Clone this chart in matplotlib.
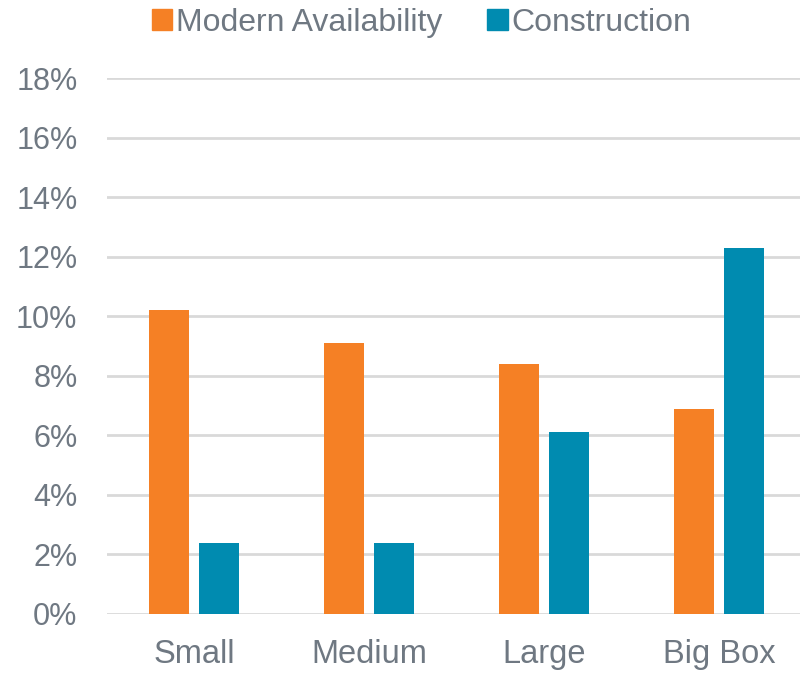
import matplotlib
matplotlib.use("Agg")
import matplotlib.pyplot as plt
from matplotlib.patches import Patch
from matplotlib.ticker import FuncFormatter
import numpy as np

categories = ["Small", "Medium", "Large", "Big Box"]
modern_availability = [10.2, 9.1, 8.4, 6.9]
construction = [2.4, 2.4, 6.1, 12.3]
series_names = ["Modern Availability", "Construction"]
y_ticks = [0, 2, 4, 6, 8, 10, 12, 14, 16, 18]

ORANGE = "#F58025"
TEAL = "#008BB0"
TEXT = "#6F7882"
GRID = "#D9D9D9"

plt.rcParams["font.family"] = ["Liberation Sans", "DejaVu Sans"]

fig = plt.figure(figsize=(8.0, 6.73), dpi=100)
ax = fig.add_axes([0.1333, 0.0877, 0.875, 0.7964])

x = np.arange(len(categories))
w = 0.2286
off = 0.1429
ax.bar(x - off, modern_availability, width=w, color=ORANGE, zorder=3)
ax.bar(x + off, construction, width=w, color=TEAL, zorder=3)

ax.set_xlim(-0.5, len(categories) - 0.5)
ax.set_ylim(0, 18)
ax.set_yticks(y_ticks)
ax.yaxis.set_major_formatter(FuncFormatter(lambda v, p: f"{v:.0f}%"))
ax.set_xticks(x)
ax.set_xticklabels(categories)

ax.grid(axis="y", color=GRID, linewidth=2, zorder=0)
for s in ax.spines.values():
    s.set_visible(False)
ax.tick_params(axis="both", length=0, colors=TEXT)
ax.tick_params(axis="y", pad=21, labelsize=22)
ax.tick_params(axis="x", pad=18, labelsize=23.5)

handles = [Patch(color=ORANGE), Patch(color=TEAL)]
fig.legend(handles, series_names, loc="center", bbox_to_anchor=(0.527, 0.966),
           ncol=2, frameon=False, fontsize=23, labelcolor=TEXT,
           handlelength=0.65, handleheight=0.65, handletextpad=0.12,
           columnspacing=1.4, borderaxespad=0)

fig.savefig("out.png", dpi=100)
